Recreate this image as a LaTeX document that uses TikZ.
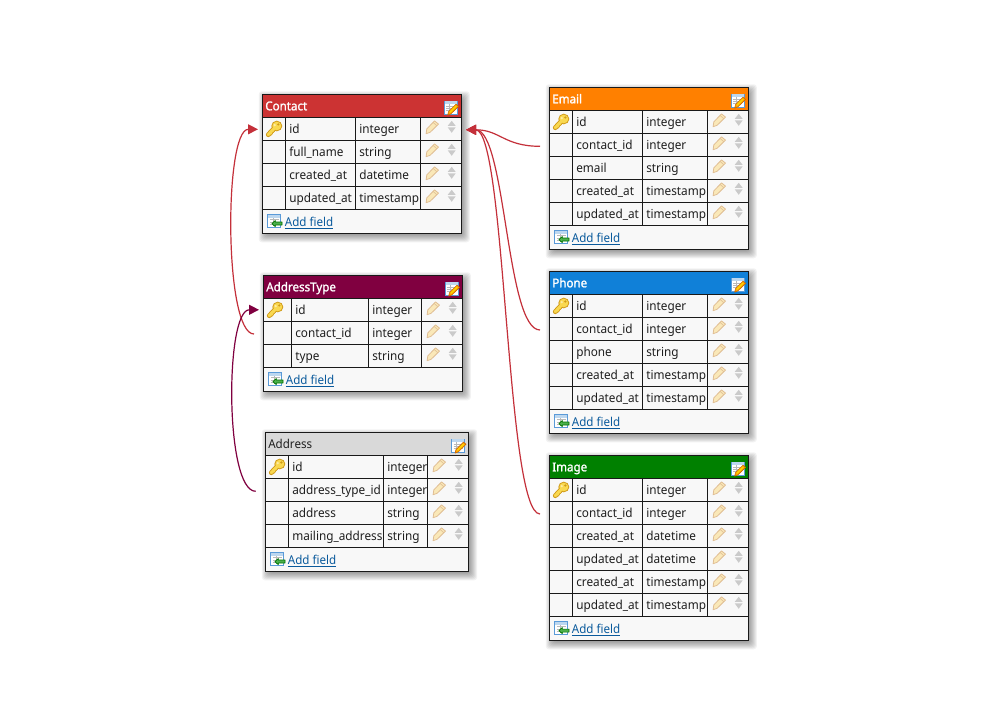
\documentclass[tikz,border=0pt]{standalone}
\usepackage{fontspec}
\setmainfont[FakeStretch=0.95]{Noto Sans}
\newfontfamily\titlebold[FakeBold=1.5,FakeStretch=0.95]{Noto Sans}
\usetikzlibrary{arrows.meta,calc}
\definecolor{cContact}{HTML}{CC3333}
\definecolor{cAddrType}{HTML}{800040}
\definecolor{cAddress}{HTML}{D9D9D9}
\definecolor{cEmail}{HTML}{FF8000}
\definecolor{cPhone}{HTML}{1080D8}
\definecolor{cImage}{HTML}{008000}
\definecolor{cRow}{HTML}{F8F8F8}
\definecolor{cLink}{HTML}{0A5A9C}
\definecolor{cKey}{HTML}{F9D850}
\definecolor{cKeyD}{HTML}{D09A18}
\definecolor{cPen}{HTML}{FAE8B8}
\definecolor{cPenD}{HTML}{E0BE94}
\definecolor{cTri}{HTML}{CACACA}
\definecolor{cIcon}{HTML}{5A9AD8}
\definecolor{cRel}{HTML}{C4303A}
\tikzset{
  x=1pt,y=-1pt,
  tablebox/.style={draw=black!90,line width=1pt,fill=cRow,inner sep=0pt,outer sep=0pt,anchor=north west},
  headbox/.style={draw=black!90,line width=1pt,inner sep=0pt,outer sep=0pt,anchor=north west},
  rowbox/.style={draw=black!90,line width=1pt,fill=cRow,inner sep=0pt,outer sep=0pt,anchor=north west},
  celltext/.style={inner sep=0pt,outer sep=0pt,anchor=base west,font=\fontsize{12.4}{15}\selectfont,text=black!88},
  titletext/.style={inner sep=0pt,outer sep=0pt,anchor=base west},
  titlelight/.style={text=white,font=\titlebold\fontsize{12.2}{15}\selectfont},
  titledark/.style={text=black!88,font=\fontsize{12.2}{15}\selectfont},
  linktext/.style={inner sep=0pt,outer sep=0pt,anchor=base west,font=\fontsize{12.2}{15}\selectfont,text=cLink},
  relation/.style={line width=1.2pt,-{Triangle[length=10pt,width=10pt]}},
  shadowlayer/.style={fill=black,fill opacity=0.05,draw=none,rounded corners=3pt},
}
% key icon, origin at its top left, about 16 x 16
\newcommand{\keyicon}[2]{%
  \begin{scope}[shift={(#1,#2)}]
    \draw[line width=4.8pt,cKeyD,line cap=round] (8,8) -- (2.4,14);
    \draw[line width=2.6pt,cKeyD] (3.4,11.2) -- (6,14) (6,8.8) -- (8.4,11.2);
    \fill[cKeyD] (10.9,5.3) ellipse[x radius=5.5,y radius=5.3];
    \fill[cKey] (10.9,5.3) ellipse[x radius=4.5,y radius=4.3];
    \draw[line width=3pt,cKey,line cap=round] (8,8) -- (2.4,14);
    \draw[line width=1.2pt,cKey] (3.6,11.4) -- (5.6,13.4) (6.2,9) -- (7.8,10.6);
    \fill[cKeyD] (12.4,3.8) circle[radius=1.2];
    \fill[white,opacity=.5] (8.8,4.4) circle[radius=1.3];
  \end{scope}}
% pencil icon, origin at its top left, about 12.5 x 13
\newcommand{\penicon}[2]{%
  \begin{scope}[shift={(#1,#2)}]
    \draw[cPenD,fill=cPen,line width=.8pt,line join=round] (8.6,.2) -- (12.6,3.4) -- (4.2,11.6) -- (.2,13) -- (.9,8.2) -- cycle;
    \draw[cPenD,line width=.6pt] (7.2,1.8) -- (11,5);
  \end{scope}}
% up and down triangles, centred on x, y is the row top
\newcommand{\updown}[2]{%
  \fill[cTri] (#1-4,#2+8.6) -- (#1+4,#2+8.6) -- (#1,#2+3.5) -- cycle;
  \fill[cTri] (#1-4,#2+10) -- (#1+4,#2+10) -- (#1,#2+15.5) -- cycle;}
% small table glyph
\newcommand{\sheet}[2]{%
  \begin{scope}[shift={(#1,#2)}]
    \draw[cIcon,fill=white,line width=.9pt] (.5,.5) rectangle (13.5,13.5);
    \fill[cIcon!40] (1,1) rectangle (13,3.4);
    \draw[gray!55,line width=.6pt] (2.5,5.4) -- (11.5,5.4) (2.5,7.8) -- (11.5,7.8) (2.5,10.2) -- (11.5,10.2) (5.5,4) -- (5.5,11.8);
  \end{scope}}
\newcommand{\editicon}[2]{%
  \sheet{#1}{#2}
  \begin{scope}[shift={(#1,#2)}]
    \draw[orange!80!black,fill=orange!70!yellow,line width=.6pt,line join=round] (12.4,3.6) -- (14.9,5.8) -- (7.2,13.4) -- (4,14.6) -- (4.8,11.2) -- cycle;
    \fill[yellow!70!orange] (11.8,5.2) -- (13.1,6.2) -- (6.6,12.4) -- (5.6,11.4) -- cycle;
  \end{scope}}
\newcommand{\addicon}[2]{%
  \sheet{#1}{#2}
  \begin{scope}[shift={(#1,#2)}]
    \draw[black!55!green,fill=green!55!black!70!white,line width=.7pt,line join=round] (14.7,7.8) -- (8,7.8) -- (8,6.2) -- (4.6,9.3) -- (8,12.4) -- (8,10.8) -- (14.7,10.8) -- cycle;
  \end{scope}}
\newcommand{\dbtable}[9]{\def\tName{#1}\def\tL{#2}\def\tT{#3}\def\tR{#4}\def\tA{#5}\def\tB{#6}\def\tC{#7}\def\tH{#8}\def\tS{#9}\dbtableB}
\newcommand{\dbtableB}[3]{%
  \pgfmathsetmacro\tW{\tR-\tL}\pgfmathsetmacro\tHt{#3-\tT}
  \foreach \s in {6,5,...,-2}{
    \fill[shadowlayer] ({\tL-\s+2.5},{\tT-\s+3}) rectangle ({\tR+\s+2.5},{#3+\s+3});
  }
  \node[tablebox,minimum width=\tW pt,minimum height=\tHt pt] (\tName) at (\tL,\tT) {};
  \node[headbox,fill=\tH,minimum width=\tW pt,minimum height=23pt] (\tName-head) at (\tL,\tT) {};
  \node[titletext,\tS] (\tName-title) at ({\tL+3},{\tT+16}) {#1};
  \editicon{\tR-17.6}{\tT+6.2}
  \foreach \n/\ty [count=\i] in {#2}{
    \pgfmathsetmacro\ry{\tT+23*\i}
    \node[rowbox,minimum width=\tW pt,minimum height=23pt] (\tName-\i) at (\tL,\ry) {};
    \draw[black!90,line width=1pt] (\tA,\ry) -- (\tA,\ry+23) (\tB,\ry) -- (\tB,\ry+23) (\tC,\ry) -- (\tC,\ry+23);
    \node[celltext] (\tName-\i-name) at ({\tA+4},{\ry+16}) {\n};
    \node[celltext] (\tName-\i-type) at ({\tB+4},{\ry+16}) {\ty};
    \penicon{\tC+5.6}{\ry+3.4}
    \updown{\tC+31.4}{\ry}
    \ifnum\i=1 \keyicon{\tL+3.6}{\ry+3.4}\fi
    \xdef\lastry{\ry}
  }
  \pgfmathsetmacro\ay{\lastry+23}
  \addicon{\tL+5}{\ay+5}
  \node[linktext] (\tName-add) at ({\tL+22.6},{\ay+17}) {\underline{Add field}};
}
\begin{document}
\begin{tikzpicture}
\useasboundingbox[fill=white] (0,0) rectangle (1005,708);

\dbtable{Contact}{262.3}{94.3}{461.3}{285.3}{355.3}{420.3}{cContact}{titlelight}
  {Contact}{id/integer,full\_name/string,created\_at/datetime,updated\_at/timestamp}{233.3}
\dbtable{AddressType}{263.3}{275.3}{462.3}{291.3}{368.3}{421.3}{cAddrType}{titlelight}
  {AddressType}{id/integer,contact\_id/integer,type/string}{391.3}
\dbtable{Address}{265.3}{432.3}{468.7}{288.3}{383.3}{427.3}{cAddress}{titledark}
  {Address}{id/integer,address\_type\_id/integer,address/string,mailing\_address/string}{571.3}
\dbtable{Email}{549.3}{87.3}{748.3}{572.3}{642.3}{707.3}{cEmail}{titlelight}
  {Email}{id/integer,contact\_id/integer,email/string,created\_at/timestamp,updated\_at/timestamp}{249.3}
\dbtable{Phone}{549.3}{271.3}{748.3}{572.3}{642.3}{707.3}{cPhone}{titlelight}
  {Phone}{id/integer,contact\_id/integer,phone/string,created\_at/timestamp,updated\_at/timestamp}{433.3}
\dbtable{Image}{549.3}{455.3}{748.3}{572.3}{642.3}{707.3}{cImage}{titlelight}
  {Image}{id/integer,contact\_id/integer,created\_at/datetime,updated\_at/datetime,created\_at/timestamp,updated\_at/timestamp}{640.3}

\coordinate (contact-west) at ([shift={(-4.3pt,-0.5pt)}]Contact-1.west);
\coordinate (contact-east) at ([shift={(4.7pt,-1pt)}]Contact-1.east);
\coordinate (type-west) at ([shift={(-4.3pt,0pt)}]AddressType-1.west);
\coordinate (type-from) at ([shift={(-9.3pt,-1.2pt)}]AddressType-2.west);
\coordinate (address-from) at ([shift={(-9.6pt,-1.5pt)}]Address-2.west);
\coordinate (email-from) at ([shift={(-9.3pt,-1.5pt)}]Email-2.west);
\coordinate (phone-from) at ([shift={(-9.3pt,-1.2pt)}]Phone-2.west);
\coordinate (image-from) at ([shift={(-9.3pt,-1.2pt)}]Image-2.west);

\draw[relation,cRel] (type-from) .. controls +(-30,0) and +(-34,0) .. (contact-west);
\draw[relation,cAddrType] (address-from) .. controls +(-31,0) and +(-34,0) .. (type-west);
\draw[relation,cRel] (email-from) .. controls +(-36,0) and +(34,0) .. (contact-east);
\draw[relation,cRel] (phone-from) .. controls +(-34,0) and +(40,0) .. (contact-east);
\draw[relation,cRel] (image-from) .. controls +(-34,0) and +(40,0) .. (contact-east);
\end{tikzpicture}
\end{document}
